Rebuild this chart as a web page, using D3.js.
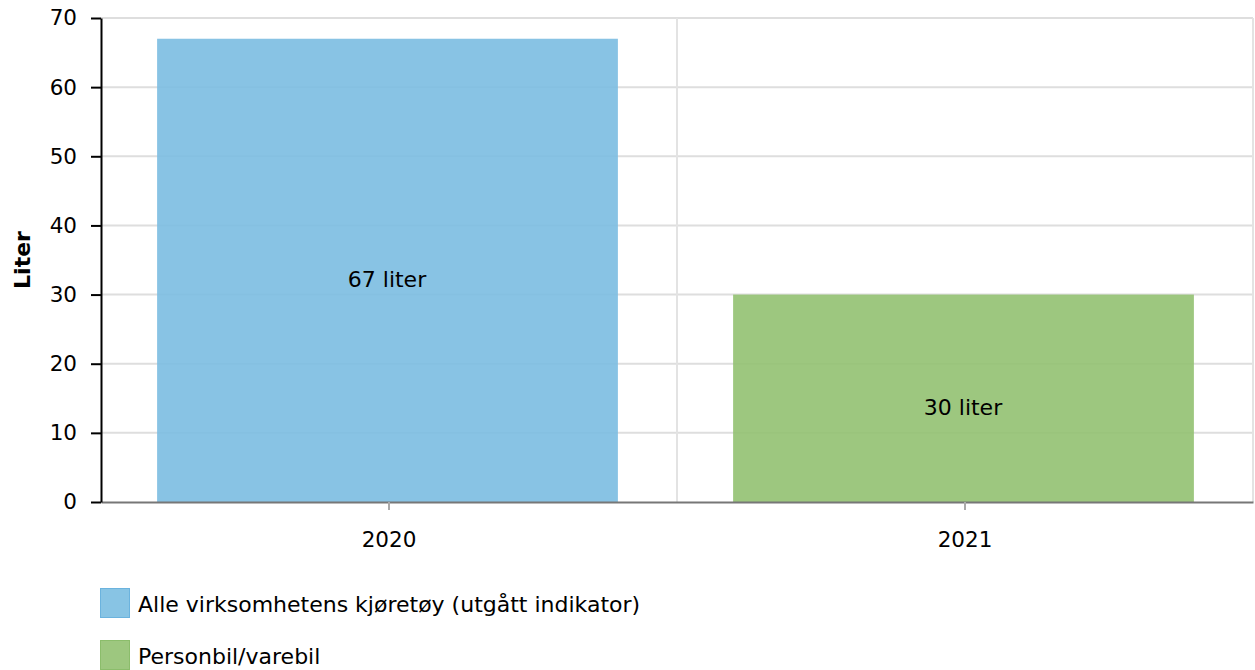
<!DOCTYPE html>
<html>
<head>
<meta charset="utf-8">
<script src="https://cdn.jsdelivr.net/npm/d3@7"></script>
<style>
  body { margin: 0; background: #fff; }
  svg text { font-family: Verdana, "DejaVu Sans", sans-serif; fill: #000; }
</style>
</head>
<body>
<svg id="chart"></svg>
<script>
// chart data
const years = ["2020", "2021"];
const values = [67, 30];
const seriesNames = ["Alle virksomhetens kjøretøy (utgått indikator)", "Personbil/varebil"];
const seriesColors = ["#7bbde1", "#92c171"];
const legendColors = ["#88c4e4", "#9dc77f"];
const seriesStroke = ["#6bb3de", "#8bbd6b"];
const yTicks = [0, 10, 20, 30, 40, 50, 60, 70];

const width = 1255, height = 670;
const margin = { left: 101, right: 2, top: 18, bottom: 168 };
const plotW = width - margin.left - margin.right;
const plotH = height - margin.top - margin.bottom;
const fontSize = "21.5px";

const svg = d3.select("#chart").attr("width", width).attr("height", height);
const chart = svg.append("g").attr("transform", `translate(${margin.left}, ${margin.top})`);

const yScale = d3.scaleLinear().domain([0, 70]).range([plotH, 0]);
const xScale = d3.scaleBand().domain(years).range([0, plotW]).paddingInner(0).paddingOuter(0);
const barPad = 0.1;

// horizontal gridlines
chart.append("g")
  .selectAll("line")
  .data(yTicks.filter(t => t > 0))
  .enter()
  .append("line")
  .attr("x1", 0).attr("x2", plotW)
  .attr("y1", d => yScale(d)).attr("y2", d => yScale(d))
  .attr("stroke", "#dedede").attr("stroke-width", 2);

// vertical gridlines at category boundaries
chart.append("g")
  .selectAll("line")
  .data(years)
  .enter()
  .append("line")
  .attr("x1", d => xScale(d) + xScale.bandwidth())
  .attr("x2", d => xScale(d) + xScale.bandwidth())
  .attr("y1", 0).attr("y2", plotH)
  .attr("stroke", "#e3e3e3").attr("stroke-width", 2);

// bars
const bw = xScale.bandwidth() * (1 - 2 * barPad);
const bars = chart.selectAll(".bar")
  .data(values)
  .enter()
  .append("g");

bars.append("rect")
  .attr("x", (d, i) => xScale(years[i]) + xScale.bandwidth() * barPad - 1.5)
  .attr("y", d => yScale(d))
  .attr("width", bw)
  .attr("height", d => plotH - yScale(d))
  .attr("fill", (d, i) => seriesColors[i])
  .attr("fill-opacity", 0.9);

bars.append("text")
  .attr("x", (d, i) => xScale(years[i]) + xScale.bandwidth() / 2 - 2)
  .attr("y", d => (yScale(d) + plotH) / 2 + 16.5)
  .attr("text-anchor", "middle")
  .style("font-size", "22px")
  .text(d => d + " liter");

// x axis
const xAxis = chart.append("g")
  .attr("transform", `translate(0, ${plotH})`)
  .call(d3.axisBottom(xScale).tickSizeOuter(0).tickSizeInner(8).tickPadding(22));
xAxis.select(".domain").attr("stroke", "#777").attr("stroke-width", 2);
xAxis.selectAll(".tick line").attr("stroke", "#aaa").attr("stroke-width", 2);
xAxis.selectAll("text").style("font-size", fontSize).attr("font-family", null);

// y axis
const yAxis = chart.append("g")
  .call(d3.axisLeft(yScale).tickValues(yTicks).tickSizeOuter(0).tickSizeInner(10).tickPadding(14));
yAxis.select(".domain").attr("stroke", "#000").attr("stroke-width", 2);
yAxis.selectAll(".tick line").attr("stroke", "#000").attr("stroke-width", 2);
yAxis.selectAll("text").style("font-size", fontSize).attr("font-family", null);

// y title
svg.append("text")
  .attr("transform", `translate(30, ${margin.top + plotH / 2}) rotate(-90)`)
  .attr("text-anchor", "middle")
  .style("font-size", "22px")
  .style("font-weight", "bold")
  .text("Liter");

// legend
const legend = svg.append("g").attr("transform", "translate(100, 588)");
const items = legend.selectAll("g")
  .data(seriesNames)
  .enter()
  .append("g")
  .attr("transform", (d, i) => `translate(0, ${i * 52})`);
items.append("rect")
  .attr("x", 0.5).attr("y", 0.5)
  .attr("width", 29).attr("height", 29)
  .attr("fill", (d, i) => legendColors[i])
  .attr("stroke", (d, i) => seriesStroke[i]);
items.append("text")
  .attr("x", 38).attr("y", 24)
  .style("font-size", "22px")
  .text(d => d);
</script>
</body>
</html>
